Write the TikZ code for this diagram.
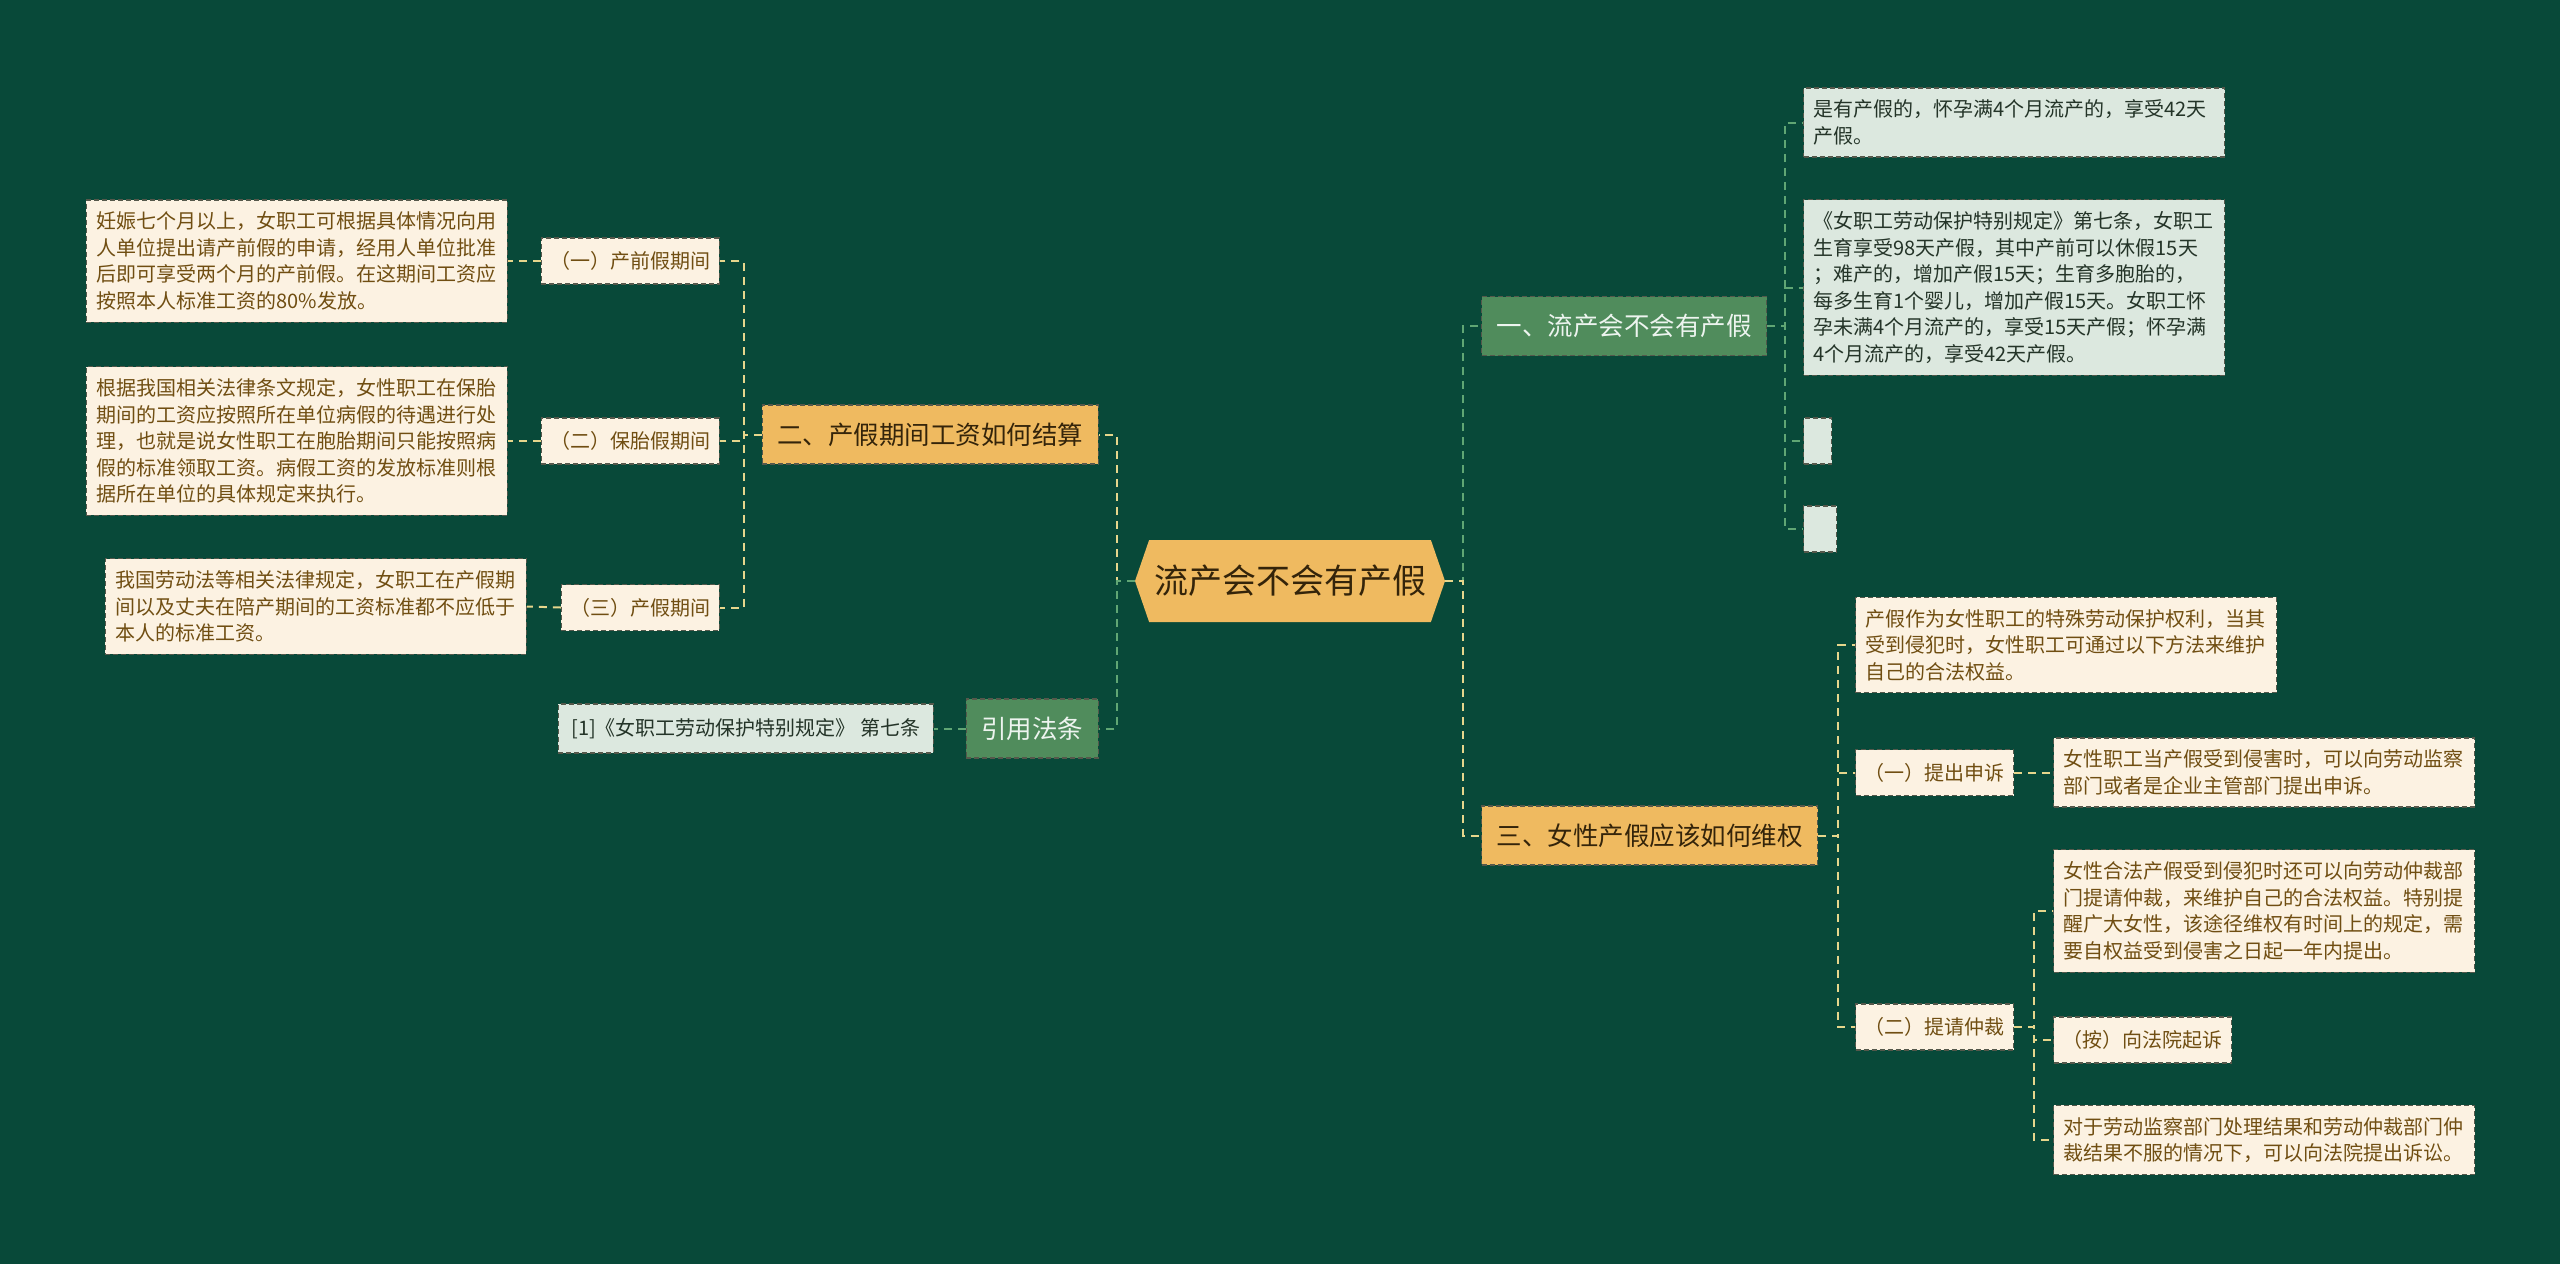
\documentclass[tikz,border=0pt]{standalone}
\usepackage{fontspec}
\setmainfont{Noto Sans CJK SC}
\usetikzlibrary{shapes.symbols}
\definecolor{bgcol}{RGB}{8,73,57}
\definecolor{orangefill}{RGB}{239,186,96}
\definecolor{greenfill}{RGB}{80,140,92}
\definecolor{creamfill}{RGB}{252,242,226}
\definecolor{palefill}{RGB}{220,232,223}
\definecolor{browntext}{RGB}{112,78,18}
\definecolor{darktext}{RGB}{52,36,10}
\definecolor{paletext}{RGB}{36,52,40}
\definecolor{yline}{RGB}{230,214,140}
\definecolor{gline}{RGB}{96,166,116}
\definecolor{edgecol}{RGB}{85,88,75}
\tikzset{
  boxedge/.style={draw=edgecol, line width=1.2pt, dash pattern=on 5pt off 3pt},
  rootnode/.style={shape=signal, signal to=west and east, signal pointer angle=142, fill=orangefill, text=darktext, minimum width=310pt, minimum height=82pt, inner xsep=4pt, font=\fontsize{34}{40}\selectfont},
  orangebox/.style={boxedge, fill=orangefill, text=darktext, minimum height=59pt, inner xsep=15pt, font=\fontsize{25.5}{30}\selectfont},
  greenbox/.style={boxedge, fill=greenfill, text=white!90!greenfill, minimum height=59pt, inner xsep=15pt, font=\fontsize{25.5}{30}\selectfont},
  subbox/.style={boxedge, fill=creamfill, text=browntext, minimum height=46pt, inner xsep=9pt, font=\fontsize{20}{24}\selectfont},
  notebox/.style={boxedge, fill=creamfill, text=browntext, text width=401pt, align=left, inner xsep=10pt, inner ysep=12pt, font=\fontsize{20}{26.5}\selectfont},
  palenote/.style={notebox, fill=palefill, text=paletext},
  citebox/.style={boxedge, fill=palefill, text=paletext, minimum height=49pt, inner xsep=13pt, font=\fontsize{20}{24}\selectfont},
  blankbox/.style={boxedge, fill=palefill, minimum height=46pt, inner sep=0pt},
  yconn/.style={yline, line width=2pt, dash pattern=on 8pt off 6pt},
  gconn/.style={gline, line width=2pt, dash pattern=on 8pt off 6pt}
}
\begin{document}
\begin{tikzpicture}[x=1pt, y=-1pt]
  \fill[bgcol] (0,0) rectangle (2560,1264);
  \useasboundingbox (0,0) rectangle (2560,1264);
  \node[rootnode] (root) at (1290,581) {流产会不会有产假};
  \node[orangebox, anchor=east] (b2) at (1099,434.5) {二、产假期间工资如何结算};
  \node[greenbox, anchor=east] (cite) at (1099,728.5) {引用法条};
  \node[greenbox, anchor=west] (b1) at (1481,326) {一、流产会不会有产假};
  \node[orangebox, anchor=west] (b3) at (1481,835.5) {三、女性产假应该如何维权};
  \node[subbox, anchor=east] (s1) at (720,261) {（一）产前假期间};
  \node[subbox, anchor=east] (s2) at (720,441) {（二）保胎假期间};
  \node[subbox, anchor=east] (s3) at (720,607.5) {（三）产假期间};
  \node[notebox, anchor=east] (n1) at (508,261) {妊娠七个月以上，女职工可根据具体情况向用\\人单位提出请产前假的申请，经用人单位批准\\后即可享受两个月的产前假。在这期间工资应\\按照本人标准工资的80\%发放。};
  \node[notebox, anchor=east] (n2) at (508,441) {根据我国相关法律条文规定，女性职工在保胎\\期间的工资应按照所在单位病假的待遇进行处\\理，也就是说女性职工在胞胎期间只能按照病\\假的标准领取工资。病假工资的发放标准则根\\据所在单位的具体规定来执行。};
  \node[notebox, anchor=east] (n3) at (527,606.5) {我国劳动法等相关法律规定，女职工在产假期\\间以及丈夫在陪产期间的工资标准都不应低于\\本人的标准工资。};
  \node[citebox, anchor=east] (ref1) at (934,728.5) {[1]《女职工劳动保护特别规定》 第七条};
  \node[palenote, anchor=west] (m1) at (1803,122.5) {是有产假的，怀孕满4个月流产的，享受42天\\产假。};
  \node[palenote, anchor=west] (m2) at (1803,287.5) {《女职工劳动保护特别规定》第七条，女职工\\生育享受98天产假，其中产前可以休假15天\\；难产的，增加产假15天；生育多胞胎的，\\每多生育1个婴儿，增加产假15天。女职工怀\\孕未满4个月流产的，享受15天产假；怀孕满\\4个月流产的，享受42天产假。};
  \node[blankbox, minimum width=28pt, anchor=west] (m3) at (1803,441) {};
  \node[blankbox, minimum width=33pt, anchor=west] (m4) at (1803,529) {};
  \node[notebox, anchor=west] (r1) at (1855,645) {产假作为女性职工的特殊劳动保护权利，当其\\受到侵犯时，女性职工可通过以下方法来维护\\自己的合法权益。};
  \node[subbox, anchor=west] (r2) at (1855,772.5) {（一）提出申诉};
  \node[subbox, anchor=west] (r3) at (1855,1027) {（二）提请仲裁};
  \node[notebox, anchor=west] (t1) at (2053,772.5) {女性职工当产假受到侵害时，可以向劳动监察\\部门或者是企业主管部门提出申诉。};
  \node[notebox, anchor=west] (t2) at (2053,911) {女性合法产假受到侵犯时还可以向劳动仲裁部\\门提请仲裁，来维护自己的合法权益。特别提\\醒广大女性，该途径维权有时间上的规定，需\\要自权益受到侵害之日起一年内提出。};
  \node[subbox, anchor=west] (t3) at (2053,1040) {（按）向法院起诉};
  \node[notebox, anchor=west] (t4) at (2053,1140) {对于劳动监察部门处理结果和劳动仲裁部门仲\\裁结果不服的情况下，可以向法院提出诉讼。};
  \draw[yconn] (root.west) -- ++(-18,0) |- (b2.east);
  \draw[gconn] (root.west) -- ++(-18,0) |- (cite.east);
  \draw[gconn] (root.east) -- ++(18,0) |- (b1.west);
  \draw[yconn] (root.east) -- ++(18,0) |- (b3.west);
  \draw[yconn] (b2.west) -- ++(-18,0) |- (s1.east);
  \draw[yconn] (b2.west) -- ++(-18,0) |- (s2.east);
  \draw[yconn] (b2.west) -- ++(-18,0) |- (s3.east);
  \draw[yconn] (s1.west) -- (n1.east);
  \draw[yconn] (s2.west) -- (n2.east);
  \draw[yconn] (s3.west) -- (n3.east);
  \draw[gconn] (cite.west) -- (ref1.east);
  \draw[gconn] (b1.east) -- ++(18,0) |- (m1.west);
  \draw[gconn] (b1.east) -- ++(18,0) |- (m2.west);
  \draw[gconn] (b1.east) -- ++(18,0) |- (m3.west);
  \draw[gconn] (b1.east) -- ++(18,0) |- (m4.west);
  \draw[yconn] (b3.east) -- ++(20,0) |- (r1.west);
  \draw[yconn] (b3.east) -- ++(20,0) |- (r2.west);
  \draw[yconn] (b3.east) -- ++(20,0) |- (r3.west);
  \draw[yconn] (r2.east) -- (t1.west);
  \draw[yconn] (r3.east) -- ++(20,0) |- (t2.west);
  \draw[yconn] (r3.east) -- ++(20,0) |- (t3.west);
  \draw[yconn] (r3.east) -- ++(20,0) |- (t4.west);
\end{tikzpicture}
\end{document}
